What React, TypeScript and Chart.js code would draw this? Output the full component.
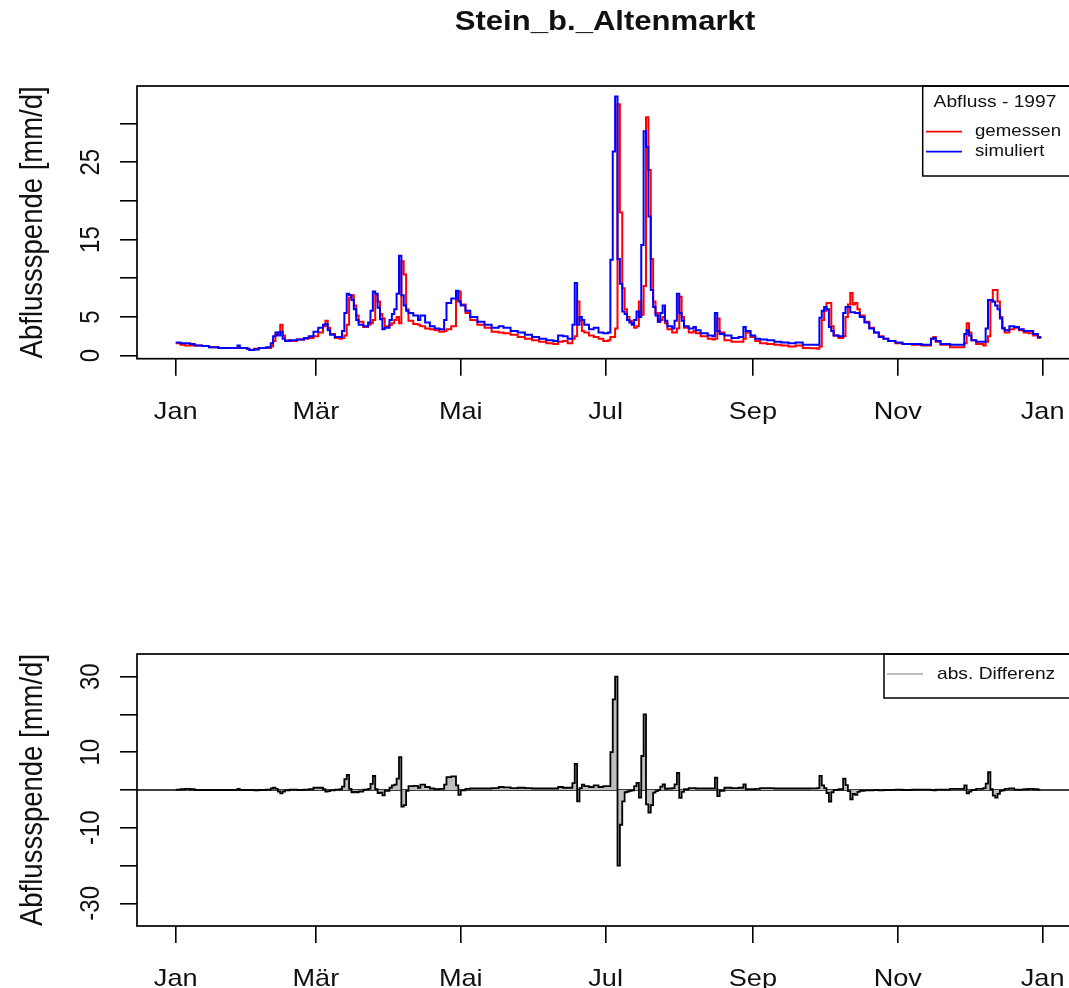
import React, { useEffect, useRef } from 'react';
import { Chart, registerables } from 'chart.js';

Chart.register(...registerables);

// ---------- data ----------
const days = [
  0, 2, 4, 6, 8, 11, 14, 18, 22, 25, 26, 27, 30, 31, 33, 35, 38, 40, 41, 42, 43, 44, 45, 46, 48, 51, 54, 56, 58,
  60, 62, 63, 64, 65, 67, 69, 70, 71, 72, 73, 74, 75, 76, 77, 79, 81, 82, 83, 84, 85, 86, 87, 88, 90, 91, 92, 93,
  94, 95, 96, 97, 98, 100, 102, 103, 105, 107, 109, 111, 113, 114, 116, 118, 119, 120, 122, 124, 127, 130, 133,
  136, 138, 141, 144, 147, 150, 153, 156, 159, 161, 163, 165, 167, 168, 169, 170, 171, 172, 174, 176, 178, 180,
  182, 183, 184, 185, 186, 187, 188, 189, 190, 191, 192, 193, 194, 195, 196, 197, 198, 199, 200, 201, 202, 203,
  204, 205, 206, 207, 209, 210, 211, 212, 213, 214, 216, 218, 219, 221, 224, 226, 227, 228, 229, 231, 234, 237,
  239, 240, 242, 244, 246, 249, 252, 255, 258, 261, 264, 267, 270, 271, 272, 273, 274, 275, 276, 277, 279, 281,
  282, 283, 284, 285, 286, 287, 288, 290, 292, 294, 296, 298, 300, 303, 306, 310, 314, 317, 318, 319, 320, 322,
  326, 330, 332, 333, 334, 335, 337, 340, 341, 342, 343, 344, 345, 346, 347, 348, 349, 351, 353, 355, 357, 359,
  361, 363, 364,
];

const measured = [
  1.6, 1.4, 1.3, 1.3, 1.3, 1.25, 1.1, 1.0, 1.0, 1.0, 1.0, 1.0, 0.9, 0.75, 0.9, 1.0, 1.0, 1.2, 1.9, 2.7, 3.0, 4.0,
  2.6, 2.0, 1.9, 2.1, 2.2, 2.3, 2.5,
  3.0, 3.8, 4.5, 3.6, 2.8, 2.3, 2.2, 2.3, 2.6, 4.0, 7.5, 7.8, 6.5, 5.2, 4.4, 3.7, 4.0, 4.2, 4.6, 7.8, 7.0, 5.4,
  4.8, 3.8, 4.0, 4.2, 4.6, 5.0,
  4.2, 12.2, 10.5, 6.0, 4.5, 4.1, 4.0, 3.8, 3.5, 3.4, 3.3, 3.1, 3.2, 3.4, 3.8, 7.2, 8.3, 6.6, 5.5, 4.6, 4.0, 3.6,
  3.1,
  3.0, 2.9, 2.7, 2.4, 2.2, 2.0, 1.8, 1.6, 1.5, 1.8, 1.9, 1.6, 2.2, 2.5, 7.0, 4.5, 3.2, 3.0, 2.6, 2.4, 2.2, 1.9,
  2.0, 2.4, 2.4, 3.5, 32.5, 18.5, 8.7, 6.0, 5.0, 4.5, 4.1, 3.6, 3.8, 7.0, 5.3, 9.0, 30.8, 24.0, 12.5, 7.0, 5.5,
  4.4,
  4.6, 5.0, 4.2, 3.4, 3.0, 3.0, 3.5, 7.6, 5.0, 3.6, 3.0, 3.2, 2.9, 2.5, 2.2, 2.1, 2.2, 4.8, 3.0, 2.0, 1.8, 1.8,
  2.2, 3.0, 2.4, 1.9, 1.6, 1.5, 1.4, 1.3, 1.2, 1.3, 1.0, 0.95, 0.9, 1.2, 4.6, 5.8, 6.8, 6.8, 3.8, 2.6, 2.3, 2.5,
  5.0, 6.6, 8.1, 6.6, 6.8, 6.0, 5.2, 4.4, 3.6, 3.0, 2.5, 2.2, 1.9, 1.6, 1.5, 1.4, 1.3, 1.3, 2.2, 2.4, 1.8, 1.4,
  1.1, 1.1, 1.6, 4.2, 3.0, 2.0, 1.5, 1.3, 1.8, 2.5, 7.0, 8.5, 8.5, 7.0, 5.0, 3.6, 3.0, 3.4, 3.6, 3.3, 3.0, 2.9,
  2.6, 2.3, 2.2,
];

const simulated = [
  1.7, 1.6, 1.6, 1.5, 1.3, 1.25, 1.1, 1.0, 1.0, 1.0, 1.3, 1.0, 0.9, 0.75, 0.8, 1.0, 1.1, 1.6, 2.5, 3.0, 2.6, 3.1,
  2.2, 1.9, 2.0, 2.1, 2.3, 2.5, 3.1,
  3.6, 4.0, 4.1, 3.3, 2.7, 2.4, 2.4, 3.2, 5.5, 8.0, 7.8, 7.2, 6.0, 4.6, 4.0, 3.8, 4.3, 5.8, 8.3, 8.0, 6.2, 4.7,
  3.4, 3.6, 4.6, 5.4, 6.0, 8.0,
  12.9, 7.8, 6.5, 5.8, 5.5, 5.2, 4.6, 5.2, 4.3, 3.8, 3.5, 3.4, 4.6, 6.8, 7.4, 8.4, 7.0, 6.5, 5.8, 5.0, 4.4, 4.0,
  3.6,
  3.8, 3.6, 3.2, 3.0, 2.7, 2.4, 2.2, 2.0, 1.9, 2.6, 2.5, 2.2, 4.0, 9.4, 4.0, 5.0, 4.6, 4.0, 3.4, 3.6, 3.0, 2.9,
  3.0, 12.4, 26.4, 33.5, 12.5, 9.3, 5.7, 5.4, 4.6, 4.3, 4.0, 4.6, 5.7, 5.0, 14.3, 29.0, 27.0, 18.0, 8.5, 6.3, 5.2,
  4.4,
  5.5, 6.5, 4.5, 3.8, 3.5, 4.5, 8.0, 5.5, 4.5, 3.8, 3.5, 3.7, 3.3, 2.9, 2.6, 2.5, 5.5, 3.2, 2.8, 2.6, 2.3, 2.4,
  3.7, 3.2, 2.6, 2.2, 2.1, 2.0, 1.8, 1.7, 1.6, 1.7, 1.4, 1.4, 1.4, 4.9, 5.8, 6.3, 6.0, 3.7, 3.2, 2.6, 2.5, 5.5,
  6.3, 6.3, 5.6, 5.6, 5.5, 5.5, 5.0, 4.3, 3.5, 3.0, 2.4, 2.2, 1.9, 1.7, 1.5, 1.5, 1.4, 1.4, 2.2, 2.3, 1.9, 1.5,
  1.4, 1.4, 2.8, 3.3, 2.6, 2.0, 1.8, 1.8, 3.5, 7.2, 7.2, 7.0, 6.5, 6.0, 4.8, 3.5, 3.3, 3.8, 3.7, 3.4, 3.2, 3.2,
  2.8, 2.4, 2.3,
];

const monthTickDays = [0, 59, 120, 181, 243, 304, 365];
const monthTickLabels = ['Jan', 'Mär', 'Mai', 'Jul', 'Sep', 'Nov', 'Jan'];
const topYTicks = [0, 5, 10, 15, 20, 25, 30];
const topYTickLabels = ['0', '5', '', '15', '', '25', ''];
const bottomYTicks = [-30, -20, -10, 0, 10, 20, 30];
const bottomYTickLabels = ['-30', '', '-10', '', '10', '', '30'];

const chartTitle = 'Stein_b._Altenmarkt';
const yAxisTitle = 'Abflussspende [mm/d]';
const legendTitle = 'Abfluss - 1997';
const seriesNames = ['gemessen', 'simuliert'];
const diffName = 'abs. Differenz';

// ---------- styling ----------
const FONT = '"Liberation Sans", Arial, Helvetica, sans-serif';
const SX = 1.13; // horizontal stretch of the reference's lettering
const RED = '#ff0000';
const BLUE = '#0000ff';
const GREY = '#bebebe';

type TextOpts = {
  size: number;
  bold?: boolean;
  align?: CanvasTextAlign;
  baseline?: CanvasTextBaseline;
  rotate?: boolean;
  color?: string;
};

function drawText(ctx: CanvasRenderingContext2D, text: string, x: number, y: number, o: TextOpts) {
  if (!text) return;
  ctx.save();
  ctx.translate(x, y);
  ctx.scale(SX, 1);
  if (o.rotate) ctx.rotate(-Math.PI / 2);
  ctx.font = `${o.bold ? 'bold ' : ''}${o.size}px ${FONT}`;
  ctx.textAlign = o.align || 'center';
  ctx.textBaseline = o.baseline || 'alphabetic';
  ctx.fillStyle = o.color || '#111';
  ctx.fillText(text, 0, 0);
  ctx.restore();
}

function frameAndAxesText(chart: any, yTickVals: number[], yTickLabels: string[]) {
  const { ctx, chartArea: ca, scales } = chart;
  const x = scales.x;
  const y = scales.y;
  ctx.save();
  ctx.strokeStyle = '#000';
  ctx.lineWidth = 1.7;
  ctx.strokeRect(ca.left, ca.top, ca.right - ca.left, ca.bottom - ca.top);
  ctx.restore();
  monthTickDays.forEach((d, i) => {
    drawText(ctx, monthTickLabels[i], x.getPixelForValue(d), ca.bottom + 60.3, { size: 24 });
  });
  yTickVals.forEach((v, i) => {
    drawText(ctx, yTickLabels[i], ca.left - 38, y.getPixelForValue(v), { size: 24, rotate: true });
  });
  drawText(ctx, yAxisTitle, ca.left - 95, (ca.top + ca.bottom) / 2, { size: 27.5, rotate: true });
}

const topPlugin = {
  id: 'topDecor',
  afterDraw(chart: any) {
    const { ctx, chartArea: ca } = chart;
    frameAndAxesText(chart, topYTicks, topYTickLabels);
    drawText(ctx, chartTitle, 605, 30, { size: 27.5, bold: true });
    // legend
    const lx = 922.7;
    const lb = 176;
    ctx.save();
    ctx.strokeStyle = '#000';
    ctx.lineWidth = 1.5;
    ctx.strokeRect(lx, ca.top, ca.right - lx, lb - ca.top);
    ctx.lineWidth = 1.8;
    ctx.strokeStyle = RED;
    ctx.beginPath();
    ctx.moveTo(926, 131.7);
    ctx.lineTo(962, 131.7);
    ctx.stroke();
    ctx.strokeStyle = BLUE;
    ctx.beginPath();
    ctx.moveTo(926, 151.7);
    ctx.lineTo(962, 151.7);
    ctx.stroke();
    ctx.restore();
    drawText(ctx, legendTitle, 995, 107, { size: 17 });
    drawText(ctx, seriesNames[0], 975, 131.7, { size: 16.5, align: 'left', baseline: 'middle' });
    drawText(ctx, seriesNames[1], 975, 151.7, { size: 16.5, align: 'left', baseline: 'middle' });
  },
};

const bottomPlugin = {
  id: 'bottomDecor',
  beforeDatasetsDraw(chart: any) {
    const { ctx, chartArea: ca, scales } = chart;
    const y0 = scales.y.getPixelForValue(0);
    ctx.save();
    ctx.strokeStyle = '#000';
    ctx.lineWidth = 1.7;
    ctx.beginPath();
    ctx.moveTo(ca.left, y0);
    ctx.lineTo(ca.right, y0);
    ctx.stroke();
    ctx.restore();
  },
  afterDraw(chart: any) {
    const { ctx, chartArea: ca } = chart;
    frameAndAxesText(chart, bottomYTicks, bottomYTickLabels);
    const lx = 884;
    const lb = ca.top + 44;
    ctx.save();
    ctx.strokeStyle = '#000';
    ctx.lineWidth = 1.5;
    ctx.strokeRect(lx, ca.top, ca.right - lx, lb - ca.top);
    ctx.strokeStyle = GREY;
    ctx.lineWidth = 1.8;
    ctx.beginPath();
    ctx.moveTo(887, ca.top + 20);
    ctx.lineTo(923, ca.top + 20);
    ctx.stroke();
    ctx.restore();
    drawText(ctx, diffName, 937, ca.top + 20, { size: 17, align: 'left', baseline: 'middle' });
  },
};

function axisX(height: number) {
  return {
    type: 'linear' as const,
    min: -16.3,
    max: 380.3,
    afterBuildTicks: (s: any) => {
      s.ticks = monthTickDays.map((v) => ({ value: v }));
    },
    afterFit: (s: any) => {
      s.height = height;
    },
    ticks: { display: false },
    border: { display: false },
    grid: {
      display: true,
      drawOnChartArea: false,
      drawTicks: true,
      tickLength: 17,
      color: '#000',
      tickColor: '#000',
      lineWidth: 1.6,
      tickWidth: 1.6,
    },
  };
}

function axisY(min: number, max: number, tickVals: number[]) {
  return {
    type: 'linear' as const,
    min,
    max,
    afterBuildTicks: (s: any) => {
      s.ticks = tickVals.map((v) => ({ value: v }));
    },
    afterFit: (s: any) => {
      s.width = 137;
    },
    ticks: { display: false },
    border: { display: false },
    grid: {
      display: true,
      drawOnChartArea: false,
      drawTicks: true,
      tickLength: 17,
      color: '#000',
      tickColor: '#000',
      lineWidth: 1.6,
      tickWidth: 1.6,
    },
  };
}

const commonOpts = {
  responsive: false,
  animation: false as const,
  devicePixelRatio: 1,
  events: [] as any[],
  elements: { point: { radius: 0 } },
  plugins: { legend: { display: false }, tooltip: { enabled: false }, title: { display: false } },
};

export default function App() {
  const topRef = useRef<HTMLCanvasElement>(null);
  const botRef = useRef<HTMLCanvasElement>(null);

  useEffect(() => {
    const measPts = days.map((d, i) => ({ x: d, y: measured[i] }));
    const simPts = days.map((d, i) => ({ x: d, y: simulated[i] }));
    const diffPts = days.map((d, i) => ({ x: d, y: simulated[i] - measured[i] }));

    const top = new Chart(topRef.current as HTMLCanvasElement, {
      type: 'line',
      data: {
        datasets: [
          { label: seriesNames[0], data: measPts, borderColor: RED, borderWidth: 2, stepped: true, fill: false, order: 1 },
          { label: seriesNames[1], data: simPts, borderColor: BLUE, borderWidth: 2, stepped: true, fill: false, order: 0 },
        ],
      },
      options: {
        ...commonOpts,
        layout: { padding: { top: 86, left: 0, right: 6, bottom: 0 } },
        scales: { x: axisX(111.3), y: axisY(-0.39, 34.85, topYTicks) },
      } as any,
      plugins: [topPlugin],
    });

    const bot = new Chart(botRef.current as HTMLCanvasElement, {
      type: 'line',
      data: {
        datasets: [
          {
            label: diffName,
            data: diffPts,
            borderColor: '#000',
            backgroundColor: GREY,
            borderWidth: 1.8,
            stepped: true,
            fill: 'origin',
          },
        ],
      },
      options: {
        ...commonOpts,
        layout: { padding: { top: 184, left: 0, right: 6, bottom: 0 } },
        scales: { x: axisX(62), y: axisY(-36, 36, bottomYTicks) },
      } as any,
      plugins: [bottomPlugin],
    });

    return () => {
      top.destroy();
      bot.destroy();
    };
  }, []);

  return (
    <div
      style={{
        position: 'absolute',
        left: 0,
        top: 0,
        width: 1069,
        height: 988,
        overflow: 'hidden',
        background: '#fff',
      }}
    >
      <canvas ref={topRef} width={1085} height={470} style={{ position: 'absolute', left: 0, top: 0 }} />
      <canvas ref={botRef} width={1085} height={518} style={{ position: 'absolute', left: 0, top: 470 }} />
    </div>
  );
}
